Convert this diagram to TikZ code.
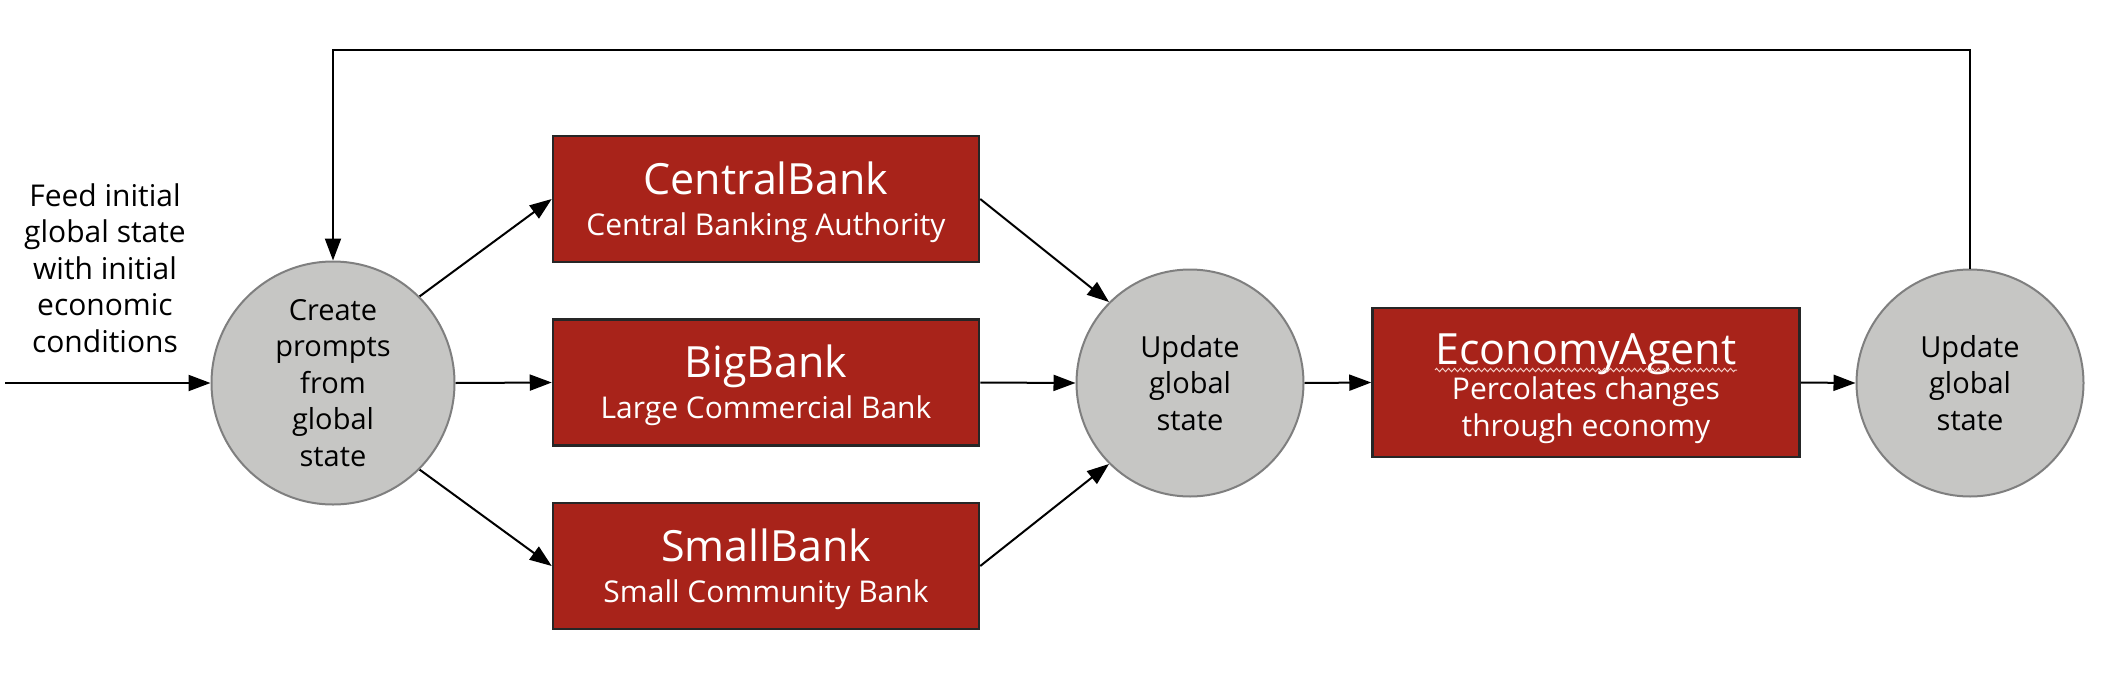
\documentclass[tikz,border=0pt]{standalone}
\usepackage{fontspec}
\setmainfont{Open Sans}
\usetikzlibrary{arrows.meta,decorations.pathmorphing}
\definecolor{bankred}{HTML}{A8231A}
\definecolor{stategray}{HTML}{C6C6C4}
\definecolor{rimgray}{HTML}{7F7F7F}
\definecolor{spellred}{HTML}{F2CFC8}
\tikzset{
  agent/.style={draw=black!85, line width=2.5pt, fill=bankred,
    minimum width=426pt, minimum height=126pt, inner sep=0pt},
  agenttext/.style={align=center, text=white, inner sep=0pt,
    font=\fontsize{30}{41}\selectfont},
  state/.style={circle, draw=rimgray, line width=2pt, fill=stategray,
    align=center, inner sep=0pt, font=\fontsize{29}{36.5}\selectfont},
  flow/.style={-{Triangle[length=22pt,width=16pt]}, line width=2pt},
}
\newcommand{\agentname}[1]{{\fontsize{43}{44}\selectfont #1}}
\begin{document}
\begin{tikzpicture}[x=1pt,y=-1pt]
    \useasboundingbox (0,0) rectangle (2128,688);
    % Entree
    \node[align=center, font=\fontsize{30}{36.5}\selectfont] (feedtext) at (105,268)
        {Feed initial\\global state\\with initial\\economic\\conditions};
    \coordinate (feed) at (5,383);
    % Etats
    \node[state, minimum size=243pt] (create) at (333,383) {Create\\prompts\\from\\global\\state};
    \node[state, minimum size=227pt] (update) at (1190,383) {Update\\global\\state};
    \node[state, minimum size=227pt] (update2) at (1970,383) {Update\\global\\state};
    % Agents
    \node[agent, label={[agenttext, yshift=-3pt]center:{\agentname{CentralBank}\\Central Banking Authority}}]
        (central) at (766,199) {};
    \node[agent, label={[agenttext, yshift=-3pt]center:{\agentname{BigBank}\\Large Commercial Bank}}]
        (big) at (766,382.5) {};
    \node[agent, label={[agenttext, yshift=-3pt]center:{\agentname{SmallBank}\\Small Community Bank}}]
        (small) at (766,566) {};
    \node[agent, minimum width=427pt, minimum height=149pt,
        label={[agenttext, font=\fontsize{30}{37}\selectfont, yshift=-6pt]center:{\agentname{EconomyAgent}\\[-2pt]Percolates changes\\through economy}}]
        (economy) at (1586,382.5) {};
    % Soulignement
    \draw[spellred, line width=1pt, decorate, decoration={zigzag, amplitude=1.6pt, segment length=6pt}]
        (1435,370) -- (1737,370);
    % Fleches
    \draw[flow] (feed) -- (create.west);
    \draw[flow] (create.45) -- (central.west);
    \draw[flow] (create.east) -- (big.west);
    \draw[flow] (create.-45) -- (small.west);
    \draw[flow] (central.east) -- (update.135);
    \draw[flow] (big.east) -- (update.west);
    \draw[flow] (small.east) -- (update.-135);
    \draw[flow] (update.east) -- (economy.west);
    \draw[flow] (economy.east) -- (update2.west);
    % Boucle
    \coordinate (top) at (0,50);
    \draw[flow] (update2.north) -- (update2.north |- top) -| (create.north);
\end{tikzpicture}
\end{document}
